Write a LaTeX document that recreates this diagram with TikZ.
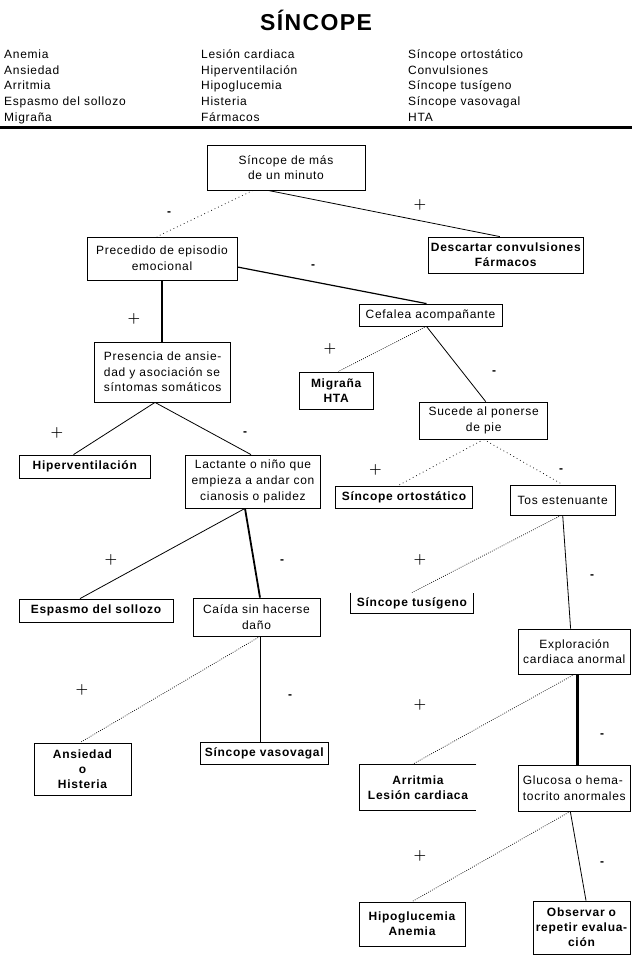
\documentclass[tikz,border=0pt]{standalone}
\usepackage{fontspec}
\setmainfont{Liberation Sans}[LetterSpace=6]
\usetikzlibrary{calc}

\begin{document}
\begin{tikzpicture}[x=1pt, y=-1pt,
    font=\fontsize{12pt}{15.7pt}\selectfont,
    caja/.style={draw, line width=0.8pt, align=center, inner sep=0pt},
    diag/.style={caja, font=\fontsize{12pt}{15pt}\selectfont\bfseries},
    mas/.style={font=\fontsize{15pt}{15pt}\selectfont\boldmath},
    menos/.style={font=\fontsize{12pt}{12pt}\selectfont\bfseries},
    fino/.style={line width=0.8pt},
    gruesa/.style={line width=2.6pt},
    punteado/.style={line width=0.7pt, dash pattern=on 0.8pt off 1.4pt},
    ralo/.style={line width=0.7pt, dash pattern=on 0.8pt off 3pt}]

    \useasboundingbox (0,0) rectangle (640,968);

    % Cabecera
    \node[font=\fontsize{23pt}{23pt}\selectfont\bfseries] (titulo) at (316,20) {SÍNCOPE};
    \node[anchor=north west, align=left, inner sep=0pt] (col1) at (4,49.5)
        {Anemia\\Ansiedad\\Arritmia\\Espasmo del sollozo\\Migraña};
    \node[anchor=north west, align=left, inner sep=0pt] (col2) at (201,49.5)
        {Lesión cardiaca\\Hiperventilación\\Hipoglucemia\\Histeria\\Fármacos};
    \node[anchor=north west, align=left, inner sep=0pt] (col3) at (408,49.5)
        {Síncope ortostático\\Convulsiones\\Síncope tusígeno\\Síncope vasovagal\\HTA};
    \draw[line width=2.5pt] (0,127.5) -- (632,127.5);

    % Preguntas
    \node[caja, minimum width=158pt, minimum height=45pt] (sinc) at (286,167.5) {Síncope de más\\de un minuto};
    \node[caja, minimum width=150pt, minimum height=43pt] (prec) at (162,258.5) {Precedido de episodio\\emocional};
    \node[caja, minimum width=143pt, minimum height=22pt] (cefa) at (430.5,315) {Cefalea acompañante};
    \node[caja, align=left, minimum width=136pt, minimum height=60pt] (pres) at (162.7,372) {Presencia de ansie-\\dad y asociación se\\síntomas somáticos};
    \node[caja, minimum width=128pt, minimum height=37pt] (suce) at (483.7,420.5) {Sucede al ponerse\\de pie};
    \node[caja, minimum width=134.7pt, minimum height=53pt] (lact) at (253,481.5) {Lactante o niño que\\empieza a andar con\\cianosis o palidez};
    \node[caja, minimum width=105.5pt, minimum height=30pt] (tos) at (562.7,500) {Tos estenuante};
    \node[caja, minimum width=127pt, minimum height=38pt] (caid) at (256.5,617) {Caída sin hacerse\\daño};
    \node[caja, minimum width=112.6pt, minimum height=45pt] (expl) at (574.3,651.5) {Exploración\\cardiaca anormal};
    \node[caja, align=left, minimum width=112.6pt, minimum height=46pt] (gluc) at (574.3,788) {Glucosa o hema-\\tocrito anormales};

    % Diagnosticos
    \node[diag, minimum width=155.6pt, minimum height=36pt] (desc) at (505.8,255) {Descartar convulsiones\\Fármacos};
    \node[diag, minimum width=74.5pt, minimum height=37pt] (migr) at (336.2,390.5) {Migraña\\HTA};
    \node[diag, minimum width=130.4pt, minimum height=23pt] (hipe) at (84.8,466.5) {Hiperventilación};
    \node[diag, minimum width=137pt, minimum height=22pt] (orto) at (404,497) {Síncope ortostático};
    \node[diag, minimum width=154pt, minimum height=23pt] (espa) at (96,610.5) {Espasmo del sollozo};
    \node[diag, draw=none, minimum width=121.6pt, minimum height=20pt] (tusi) at (412,603) {Síncope tusígeno};
    \draw[fino] (tusi.north west) -- (tusi.south west) -- (tusi.south east) -- (tusi.north east);
    \node[diag, minimum width=97pt, minimum height=52pt] (ansi) at (82.5,769) {Ansiedad\\o\\Histeria};
    \node[diag, minimum width=128.6pt, minimum height=22pt] (vaso) at (264.3,753.5) {Síncope vasovagal};
    \node[diag, draw=none, minimum width=116pt, minimum height=45pt] (arri) at (418,787.5) {Arritmia\\Lesión cardiaca};
    \draw[fino] (arri.north east) -- (arri.north west) -- (arri.south west) -- (arri.south east);
    \node[diag, minimum width=106pt, minimum height=44pt] (hipo) at (412,924) {Hipoglucemia\\Anemia};
    \node[diag, minimum width=97pt, minimum height=53pt] (obse) at (581.5,927.5) {Observar o\\repetir evalua-\\ción};

    % Ramas
    \draw[ralo] ([xshift=-33pt]sinc.south) -- ([xshift=-5pt]prec.north);
    \draw[fino] ([xshift=-18pt]sinc.south) -- ([xshift=-6pt]desc.north);
    \draw[line width=1.2pt] ([yshift=-8.5pt]prec.east) -- ([xshift=-4pt]cefa.north);
    \draw[gruesa] (prec.south) -- (prec.south |- pres.north);
    \draw[punteado] ([xshift=-4pt]cefa.south) -- ([xshift=2pt]migr.north);
    \draw[fino] ([xshift=-4pt]cefa.south) -- ([xshift=2pt]suce.north);
    \draw[fino] ([xshift=-7.7pt]pres.south) -- ([xshift=-11.3pt]hipe.north);
    \draw[fino] ([xshift=-7.7pt]pres.south) -- ([xshift=-2pt]lact.north);
    \draw[ralo] (suce.south) -- ([xshift=-6pt]orto.north);
    \draw[ralo] (suce.south) -- (tos.north);
    \draw[fino] ([xshift=-8pt]lact.south) -- ([xshift=-16pt]espa.north);
    \draw[line width=1.8pt] ([xshift=-8pt]lact.south) -- ([xshift=3.5pt]caid.north);
    \draw[punteado] ([xshift=-1.7pt]tos.south) -- (tusi.north);
    \draw[fino] (tos.south) -- ([xshift=-3.7pt]expl.north);
    \draw[punteado] ([xshift=3.5pt]caid.south) -- ([xshift=-2.5pt]ansi.north);
    \draw[fino] ([xshift=3.5pt]caid.south) -- ([xshift=-4.3pt]vaso.north);
    \draw[punteado] (expl.south) -- ([xshift=-6pt]arri.north);
    \draw[gruesa] ([xshift=3pt]expl.south) -- ([xshift=3pt]gluc.north);
    \draw[punteado] ([xshift=-4pt]gluc.south) -- (hipo.north);
    \draw[fino] ([xshift=-4pt]gluc.south) -- ([xshift=4.5pt]obse.north);

    % Signos
    \node[menos] (m1) at (169,214) {-};
    \node[mas]   (p1) at (420,205) {$+$};
    \node[menos] (m2) at (313,267) {-};
    \node[mas]   (p2) at (134,319) {$+$};
    \node[mas]   (p3) at (330,349) {$+$};
    \node[menos] (m3) at (494,373) {-};
    \node[mas]   (p4) at (57,433) {$+$};
    \node[menos] (m4) at (245,434) {-};
    \node[mas]   (p5) at (375.5,470) {$+$};
    \node[menos] (m5) at (561,471) {-};
    \node[mas]   (p6) at (111,560) {$+$};
    \node[menos] (m6) at (282,562) {-};
    \node[mas]   (p7) at (420,560) {$+$};
    \node[menos] (m7) at (592,577) {-};
    \node[mas]   (p8) at (82,690) {$+$};
    \node[menos] (m8) at (290,697) {-};
    \node[mas]   (p9) at (420,705) {$+$};
    \node[menos] (m9) at (602,736) {-};
    \node[mas]   (p10) at (420,856) {$+$};
    \node[menos] (m10) at (602,864) {-};

\end{tikzpicture}
\end{document}
